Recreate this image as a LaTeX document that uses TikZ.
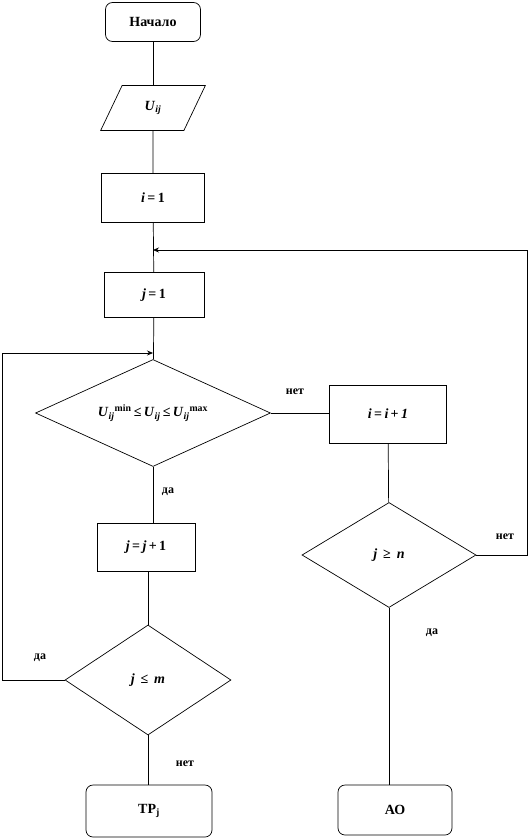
\documentclass[tikz,border=0pt]{standalone}
\usepackage{fontspec}
\setmainfont{Liberation Serif}
\usetikzlibrary{arrows.meta, positioning, shapes.geometric}

\begin{document}
\begin{tikzpicture}[
    x=1pt, y=-1pt,
    font=\bfseries\fontsize{14}{16}\selectfont,
    blok/.style={draw, line width=0.7pt, inner sep=2pt},
    kraj/.style={draw, line width=0.7pt, rounded corners=7pt, inner sep=2pt},
    vvod/.style={draw, line width=0.7pt, trapezium, trapezium left angle=68,
                 trapezium right angle=112, trapezium stretches=true,
                 minimum width=105pt, minimum height=45pt},
    romb/.style={draw, line width=0.7pt, diamond, inner sep=0pt},
    linija/.style={line width=0.7pt},
    strelka/.style={-{Stealth[length=6pt, width=5pt]}, line width=0.7pt},
    metka/.style={font=\bfseries\fontsize{12}{14}\selectfont}
  ]
    \useasboundingbox (0,0) rectangle (531,838);

    % levyj stolbec
    \node[kraj, minimum width=95pt, minimum height=39pt] (nach) at (153,22) {Начало};
    \node[vvod] (dan) at (153,108) {\textit{U}\textsubscript{\textit{ij}}};
    \node[blok, minimum width=103pt, minimum height=49pt] (i1) at (153,198) {\textit{i}\,=\,1};
    \node[blok, minimum width=100pt, minimum height=45pt] (j1) at (154,295) {\textit{j}\,=\,1};
    \node[romb, aspect=2.2, minimum width=235pt, minimum height=107pt] (usl1) at (153,413)
      {\textit{U}\textsubscript{\textit{ij}}\textsuperscript{min}\,≤\,\textit{U}\textsubscript{\textit{ij}}\,≤\,\textit{U}\textsubscript{\textit{ij}}\textsuperscript{max}};
    \node[blok, minimum width=98pt, minimum height=48pt] (jj) at (146,547) {\textit{j}\,=\,\textit{j}\,+\,1};
    \node[romb, minimum width=166pt, minimum height=110pt] (usl3) at (148,680) {\textit{j}\, ≤\, \textit{m}};
    \node[kraj, minimum width=126pt, minimum height=52pt] (tp) at (149,811) {ТР\textsubscript{j}};

    % pravyj stolbec
    \node[blok, minimum width=117pt, minimum height=58pt] (ii) at (388,414) {\textit{i}\,=\,\textit{i}\,+\,\textit{1}};
    \node[romb, minimum width=174pt, minimum height=105pt] (usl2) at (389,555) {\textit{j}\, ≥\, \textit{n}};
    \node[kraj, minimum width=114pt, minimum height=50pt] (ao) at (395,810) {АО};

    \coordinate (ugol1) at (527,250);
    \coordinate (vozv1) at (153,250);
    \coordinate (ugol2) at (2,353);
    \coordinate (vozv2) at (153,353);

    % metki
    \node[metka] (net1) at (295,392) {нет};
    \node[metka] (da1) at (168,492) {да};
    \node[metka] (net2) at (505,537) {нет};
    \node[metka] (da2) at (432,633) {да};
    \node[metka] (da3) at (40,658) {да};
    \node[metka] (net3) at (185,764) {нет};

    % svyazi
    \draw[linija] (nach) -- (dan);
    \draw[linija] (dan) -- (i1);
    \draw[linija] (i1) -- (j1);
    \draw[linija] (j1) -- (usl1);
    \draw[linija] (usl1.south) -- (usl1.south |- jj.north);
    \draw[linija] (usl3.north |- jj.south) -- (usl3.north);
    \draw[linija] (usl3.south) -- (usl3.south |- tp.north);
    \draw[linija] (usl1.east) -- (usl1.east -| ii.west);
    \draw[linija] (ii) -- (usl2);
    \draw[linija] (usl2.south) -- (usl2.south |- ao.north);
    \draw[strelka] (usl2.east) -| (ugol1) -- (vozv1);
    \draw[strelka] (usl3.west) -| (ugol2) -- (vozv2);
\end{tikzpicture}
\end{document}
